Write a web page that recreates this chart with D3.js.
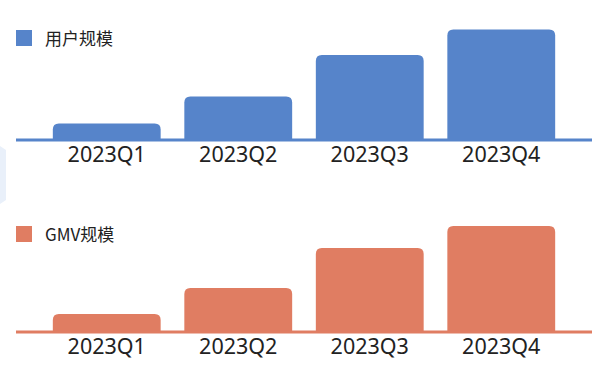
<!DOCTYPE html>
<html><head><meta charset="utf-8">
<script src="https://cdn.jsdelivr.net/npm/d3@7"></script>
<style>
html,body{margin:0;padding:0;background:#fff;}
svg{display:block;}
text{font-family:"Noto Sans","Noto Sans CJK SC",sans-serif;}
</style>
</head><body>
<svg id="c" width="600" height="380"></svg>
<script>
const categories = ["2023Q1","2023Q2","2023Q3","2023Q4"];
const userValues = [16.5, 43.5, 85, 110.5];
const gmvValues = [18, 44, 84, 106];
const seriesNames = ["用户规模","GMV规模"];
const seriesColors = ["#5684CA","#E07D62"];

const svg = d3.select("#c");

// faint decoration at left edge
svg.append("path")
  .attr("d","M0,146 L6,150 L6,200 L0,204 Z")
  .attr("fill","#e9f0fa");

const x = d3.scaleBand().domain(categories).range([16, 592]).paddingInner(0.18).paddingOuter(0.28);

function panel(offsetY, legendY, values, name, color){
  const g = svg.append("g").attr("transform",`translate(0,${offsetY})`);
  const base = 140;
  const y = d3.scaleLinear().domain([0,120]).range([base, base-120]);
  const r = 6;
  g.selectAll("path.bar").data(values).enter().append("path")
    .attr("class","bar")
    .attr("fill", color)
    .attr("d",(d,i)=>{
      const x0 = x(categories[i]), w = x.bandwidth(), y0 = y(d), h = base - y0;
      const rr = Math.min(r, h/2);
      return `M${x0},${base} L${x0},${y0+rr} Q${x0},${y0} ${x0+rr},${y0} L${x0+w-rr},${y0} Q${x0+w},${y0} ${x0+w},${y0+rr} L${x0+w},${base} Z`;
    });
  // axis line
  g.append("line").attr("x1",16).attr("x2",592).attr("y1",base).attr("y2",base)
    .attr("stroke",color).attr("stroke-width",3);
  // axis labels
  const axis = d3.axisBottom(x).tickSize(0).tickPadding(0);
  const ag = g.append("g").attr("transform",`translate(0,${base+7})`).call(axis);
  ag.select(".domain").remove();
  ag.selectAll("text").attr("font-size",21.5).attr("fill","#222").attr("dy","0.71em")
    .style("font-family",'"Noto Sans",sans-serif');
  // legend
  g.append("rect").attr("x",16).attr("y",legendY).attr("width",16).attr("height",16).attr("fill",color);
  g.append("text").attr("x",45).attr("y",legendY+14.5).attr("font-size",17).attr("fill","#222")
    .style("font-family",'"Noto Sans CJK SC","Noto Sans",sans-serif').text(name);
}

panel(0, 30, userValues, seriesNames[0], seriesColors[0]);
panel(192, 34, gmvValues, seriesNames[1], seriesColors[1]);
</script>
</body></html>
